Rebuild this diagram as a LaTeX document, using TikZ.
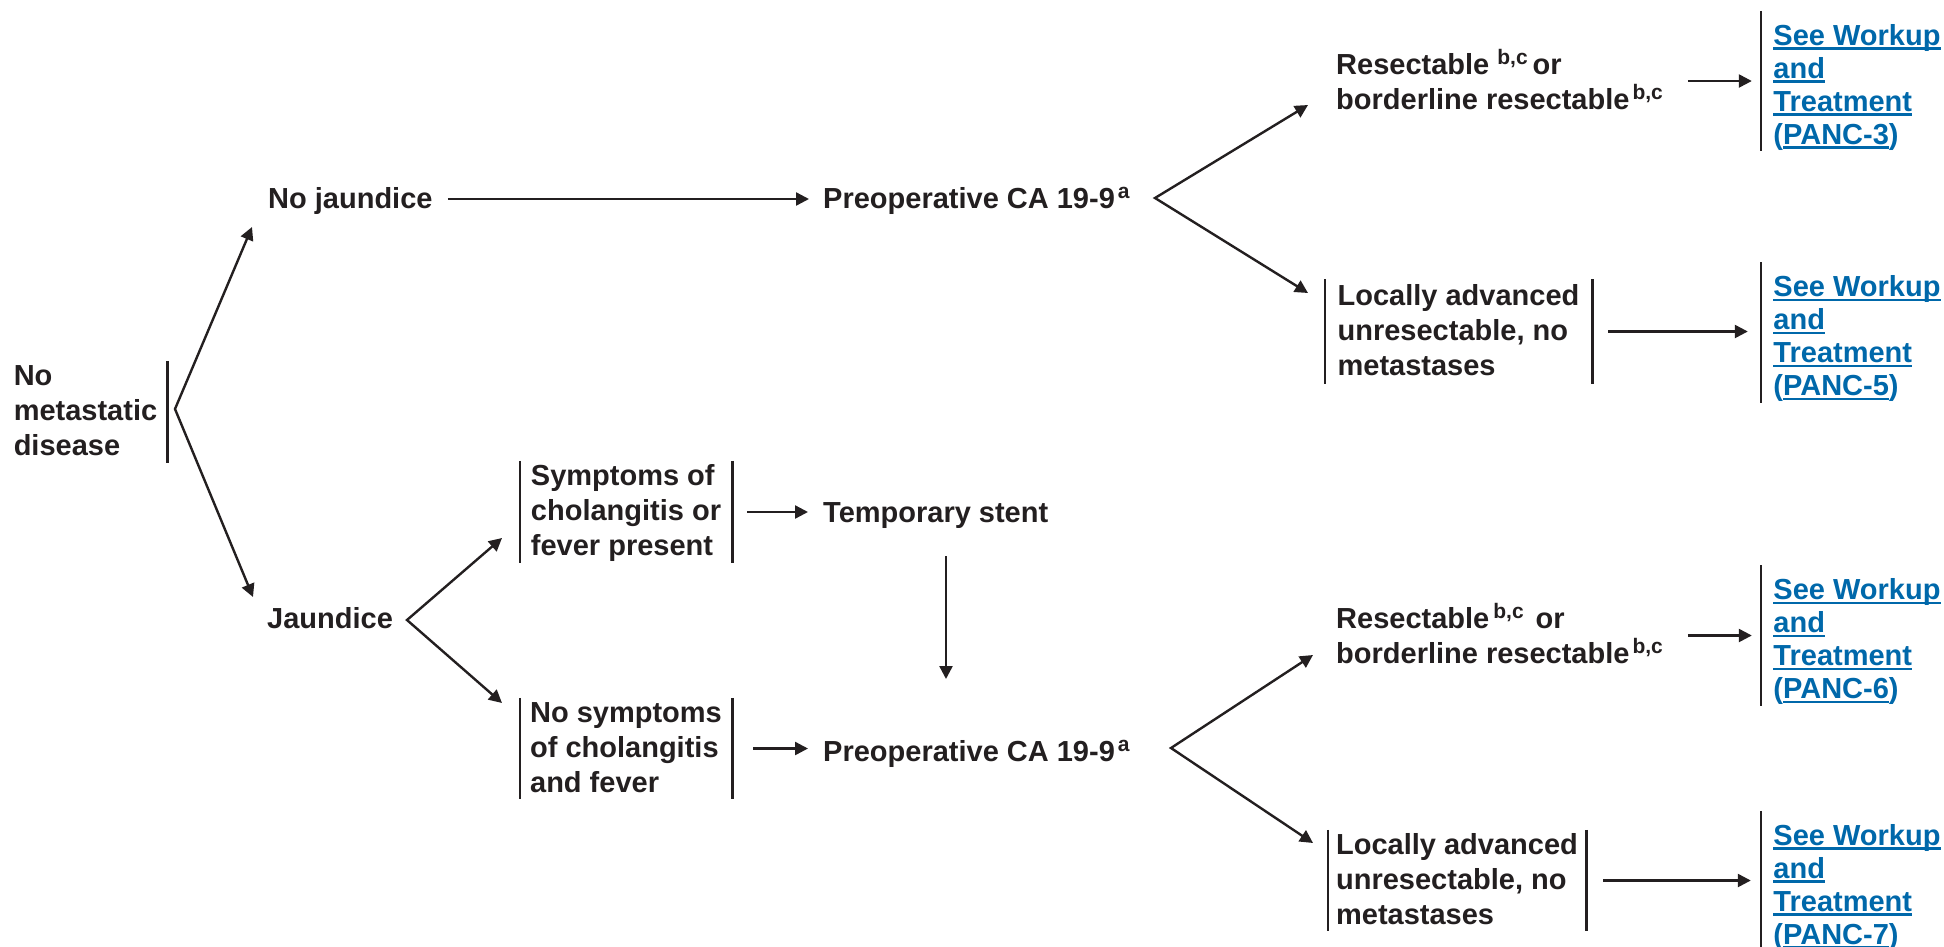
\documentclass[tikz,border=0pt]{standalone}
\usepackage{fontspec}
\setmainfont{Liberation Sans}
\usetikzlibrary{arrows.meta}

\definecolor{ink}{RGB}{35,31,32}
\definecolor{linkblue}{RGB}{0,104,170}

% raised footnote letters
\newcommand\supx[1]{\raisebox{10pt}{\fontsize{21}{21}\selectfont #1}}
% struts that fix the height of the first line and the depth of the last one
\newcommand\topstrut[1]{\rule{0pt}{#1}}
\newcommand\botstrut{\rule[-7pt]{0pt}{7pt}}
% underlined link text
\newcommand\ulink[1]{\setbox0\hbox{#1}\rlap{\rule[-4.5pt]{\wd0}{2.2pt}}\box0}

\tikzset{
  txt/.style={font=\fontsize{29}{35}\selectfont\bfseries, text=ink, inner sep=0pt},
  brk/.style={txt, align=left},
  lnk/.style={txt, align=left, text=linkblue, font=\fontsize{29}{33}\selectfont\bfseries},
  bar/.style={draw=ink, line width=2.6pt},
  arr/.style={draw=ink, line width=2.4pt, -{Triangle[length=13pt,width=13pt]}},
  fork/.style={draw=ink, line width=2.4pt, line join=miter,
    {Triangle[length=13pt,width=13pt]}-{Triangle[length=13pt,width=13pt]}}
}

\begin{document}
\begin{tikzpicture}[x=1pt, y=-1pt]
\useasboundingbox (0,0) rectangle (1944,946);

% ---------- text blocks ----------
\node[brk, minimum width=163pt, minimum height=102pt] (nm) at (85.5,412)
  {\topstrut{24pt}No\\metastatic\\disease\botstrut};

\node[txt, anchor=base west] (nj) at (268,208) {No jaundice};
\node[txt, anchor=base west] (jau) at (267,628) {Jaundice};

\node[txt, anchor=base west] (pre1) at (823,208) {Preoperative CA 19-9\kern3pt\supx{a}};

\node[brk, anchor=west] (res1) at (1336,83)
  {\topstrut{24pt}Resectable\kern8pt\supx{b,c}\kern5pt or\\
   borderline resectable\kern3pt\supx{b,c}\botstrut};

\node[brk, minimum width=267pt, minimum height=104pt] (la1) at (1458.5,331.5)
  {\topstrut{24pt}Locally advanced\\unresectable, no\\metastases\botstrut};

\node[brk, minimum width=212pt, minimum height=102pt] (sym) at (626,512)
  {\topstrut{24pt}Symptoms of\\cholangitis or\\fever present\botstrut};
\node[brk, minimum width=212pt, minimum height=99pt] (nosym) at (626,748.5)
  {\topstrut{24pt}No symptoms\\of cholangitis\\and fever\botstrut};

\node[txt, anchor=base west] (stent) at (823,522) {Temporary stent};
\node[txt, anchor=base west] (pre2) at (823,761) {Preoperative CA 19-9\kern3pt\supx{a}};

\node[brk, anchor=west] (res2) at (1336,637)
  {\topstrut{24pt}Resectable\kern4pt\supx{b,c}\kern12pt or\\
   borderline resectable\kern3pt\supx{b,c}\botstrut};

\node[brk, minimum width=258pt, minimum height=95pt] (la2) at (1457,880.5)
  {\topstrut{24pt}Locally advanced\\unresectable, no\\metastases\botstrut};

% ---------- links ----------
\node[lnk, minimum width=192pt, minimum height=138pt] (L1) at (1857,81)
  {\topstrut{34pt}\ulink{See Workup}\\\ulink{and}\\\ulink{Treatment}\\(\ulink{PANC-3})\botstrut};
\node[lnk, minimum width=192pt, minimum height=139pt] (L2) at (1857,332.5)
  {\topstrut{34pt}\ulink{See Workup}\\\ulink{and}\\\ulink{Treatment}\\(\ulink{PANC-5})\botstrut};
\node[lnk, minimum width=192pt, minimum height=139pt] (L3) at (1857,635.5)
  {\topstrut{34pt}\ulink{See Workup}\\\ulink{and}\\\ulink{Treatment}\\(\ulink{PANC-6})\botstrut};
\node[lnk, minimum width=192pt, minimum height=134pt] (L4) at (1857,881)
  {\topstrut{34pt}\ulink{See Workup}\\\ulink{and}\\\ulink{Treatment}\\(\ulink{PANC-7})\botstrut};

% ---------- side bars ----------
\draw[bar] (nm.north east) -- (nm.south east);
\foreach \n in {la1,sym,nosym,la2}{
  \draw[bar] (\n.north west) -- (\n.south west);
  \draw[bar] (\n.north east) -- (\n.south east);
}
\foreach \n in {L1,L2,L3,L4}{
  \draw[bar] (\n.north west) -- (\n.south west);
}

% ---------- fork points and arrow ends ----------
\coordinate (v0) at (175,409);
\coordinate (tNJ) at (252,227);
\coordinate (tJ) at (253,597);
\coordinate (v1) at (1155,198);
\coordinate (tR1) at (1308,105);
\coordinate (tLA1) at (1308,293);
\coordinate (v2) at (407,620);
\coordinate (tS) at (502,538);
\coordinate (tNS) at (502,703);
\coordinate (v3) at (1171,748);
\coordinate (tR2) at (1313,655);
\coordinate (tLA2) at (1313,843);
\coordinate (k0) at (946,556);
\coordinate (k1) at (946,679);

% ---------- connectors ----------
\draw[fork] (tNJ) -- (v0) -- (tJ);
\draw[fork] (tR1) -- (v1) -- (tLA1);
\draw[fork] (tS) -- (v2) -- (tNS);
\draw[fork] (tR2) -- (v3) -- (tLA2);

\draw[arr] ([shift={(15,-9)}]nj.base east) -- ([shift={(-14,-9)}]pre1.base west);
\draw[arr, shorten <=15pt, shorten >=15pt] (sym.east) -- (sym.east -| stent.west);
\draw[arr, shorten <=21pt, shorten >=15pt] (nosym.east) -- (nosym.east -| pre2.west);
\draw[arr] (k0) -- (k1);

\draw[arr, shorten >=9pt] ([xshift=-73pt]L1.west) -- (L1.west);
\draw[arr, shorten <=16pt, shorten >=13pt] (la1.east) -- (la1.east -| L2.west);
\draw[arr, shorten >=9pt] ([xshift=-73pt]L3.west) -- (L3.west);
\draw[arr, shorten <=17pt, shorten >=10pt] (la2.east) -- (la2.east -| L4.west);
\end{tikzpicture}
\end{document}
